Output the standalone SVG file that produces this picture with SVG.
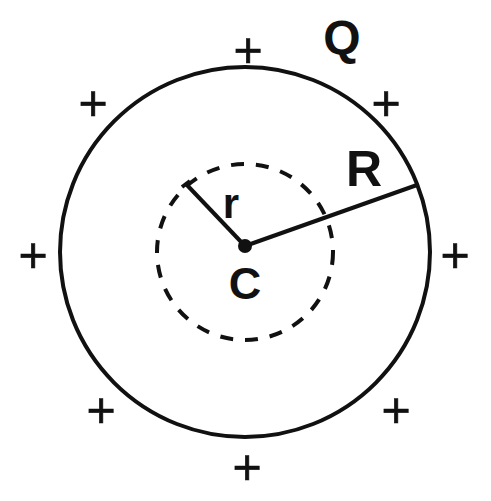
<svg xmlns="http://www.w3.org/2000/svg" width="491" height="501" viewBox="0 0 491 501">
<style>
.lbl{font-family:"Liberation Sans",Arial,sans-serif;font-weight:bold;fill:#111;text-anchor:middle}
.plus{font-family:"Liberation Sans",Arial,sans-serif;font-size:50px;fill:#111;stroke:#111;stroke-width:0.6;text-anchor:middle;dominant-baseline:central}
.ln{stroke:#111;stroke-width:4;fill:none}
</style>
<rect width="491" height="501" fill="#fff"/>
<g id="outer-sphere"><circle class="ln" cx="245" cy="252" r="185"/></g>
<g id="gaussian-surface"><circle class="ln" cx="245" cy="252" r="88" stroke-width="4.5" stroke-dasharray="13 12"/></g>
<g id="connectors">
<line class="ln" x1="245" y1="246" x2="186" y2="184"/>
<line class="ln" x1="182" y1="187" x2="190" y2="181"/>
<line class="ln" x1="245" y1="246" x2="417" y2="185"/>
</g>
<g id="center"><circle cx="245" cy="246" r="7" fill="#111"/><text class="lbl" x="245" y="299" font-size="45">C</text></g>
<g id="label-r"><text class="lbl" x="231" y="218" font-size="42">r</text></g>
<g id="label-R"><text class="lbl" x="364" y="186" font-size="50">R</text></g>
<g id="label-Q"><text class="lbl" x="342" y="54" font-size="48">Q</text></g>
<g id="charges">
<text class="plus" x="248" y="50">+</text>
<text class="plus" x="93" y="103">+</text>
<text class="plus" x="386" y="103">+</text>
<text class="plus" x="33" y="255">+</text>
<text class="plus" x="455" y="255">+</text>
<text class="plus" x="101" y="410">+</text>
<text class="plus" x="396" y="410">+</text>
<text class="plus" x="247" y="467">+</text>
</g>
</svg>
